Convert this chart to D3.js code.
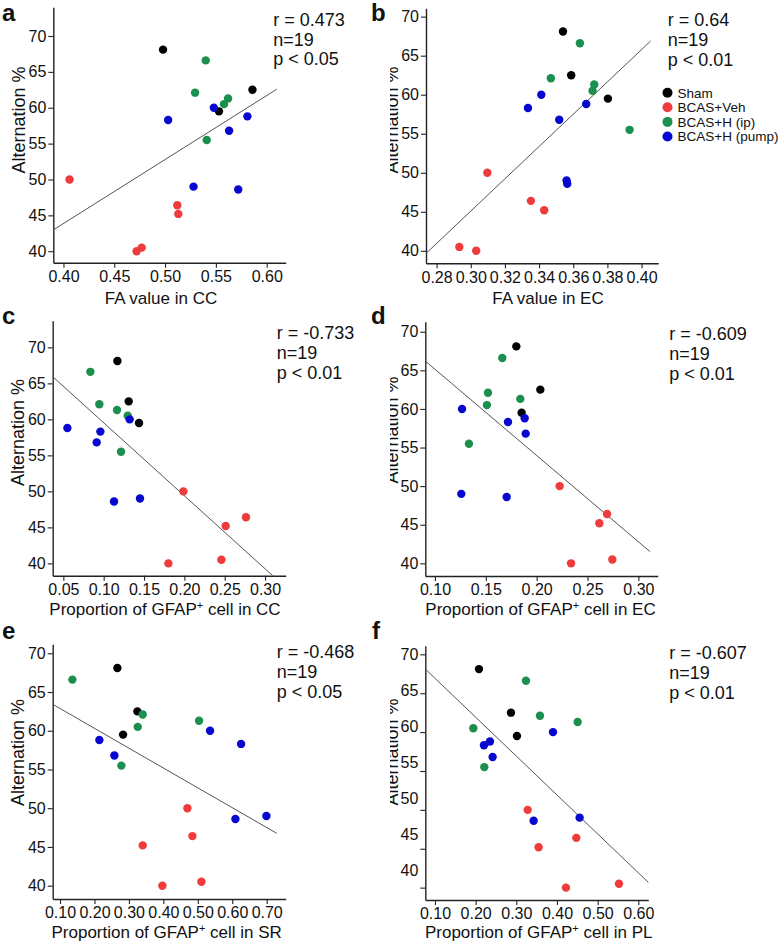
<!DOCTYPE html>
<html><head><meta charset="utf-8">
<script src="https://cdn.jsdelivr.net/npm/d3@7"></script>
<style>
body{margin:0;background:#fff}
svg{display:block}
text{font-family:"Liberation Sans",Arial,Helvetica,sans-serif;fill:#111}
</style>
</head><body>
<svg id="chart" width="778" height="943"></svg>
<script>
// ---------- DATA ----------
const groups = ["Sham", "BCAS+Veh", "BCAS+H (ip)", "BCAS+H (pump)"];
const groupColors = ["#000000", "#ef3b3b", "#1b8f4d", "#0707d0"];
// group of each animal (19 animals)
const animalGroup = [0,0,0, 1,1,1,1,1, 2,2,2,2,2, 3,3,3,3,3,3];
// Alternation % of each animal
const alternation = [68.1,62.5,59.5, 50.0,46.4,45.2,40.5,40.0, 66.6,62.1,61.3,60.5,55.5, 60.0,58.8,58.3,56.8,49.0,48.6];
// x values per panel
const faCC   = [0.498,0.586,0.553, 0.406,0.512,0.513,0.477,0.472, 0.540,0.5295,0.562,0.558,0.541, 0.548,0.581,0.503,0.563,0.528,0.572];
const faEC   = [0.354,0.3588,0.3803, 0.3097,0.3352,0.343,0.2933,0.3032, 0.3639,0.3469,0.3723,0.3713,0.393, 0.3413,0.3676,0.3335,0.3518,0.3561,0.3565];
const gfapCC = [0.117,0.131,0.1438, 0.1988,0.2764,0.2512,0.2459,0.1802, 0.0835,0.0946,0.1165,0.1298,0.1215, 0.1322,0.055,0.0959,0.0913,0.145,0.1128];
const gfapEC = [0.18,0.2036,0.1852, 0.2226,0.2692,0.2616,0.2744,0.2338, 0.1662,0.1521,0.1839,0.1511,0.1334, 0.1266,0.1882,0.1718,0.1892,0.1259,0.1705];
const gfapSR = [0.2665,0.3246,0.283, 0.4698,0.4843,0.34,0.5105,0.3972, 0.1358,0.34,0.5037,0.3256,0.2781, 0.5356,0.2142,0.6257,0.2578,0.6992,0.6092];
const gfapPL = [0.2082,0.2869,0.3016, 0.3279,0.4475,0.3549,0.5525,0.4221, 0.3238,0.3582,0.4508,0.1943,0.2213, 0.3902,0.2352,0.2205,0.2418,0.4557,0.3426];
// regression line end points [x0, y0, x1, y1] (data units)
const fitA = [0.390, 42.97, 0.6098, 62.57];
const fitB = [0.2738, 39.66, 0.4053, 66.88];
const fitC = [0.0368, 65.93, 0.3095, 38.29];
const fitD = [0.0905, 66.2, 0.3115, 41.51];
const fitE = [0.0787, 63.42, 0.7292, 46.76];
const fitF = [0.0762, 68.11, 0.6246, 40.68];
// axis domains
const xDomA = [0.390, 0.6187], yDomA = [38.4, 74.0];
const xDomB = [0.2738, 0.4098], yDomB = [38.4, 71.07];
const xDomC = [0.0368, 0.3256], yDomC = [38.29, 73.7];
const xDomD = [0.0905, 0.319], yDomD = [38.36, 71.3];
const xDomE = [0.0787, 0.7552], yDomE = [38.28, 71.16];
const xDomF = [0.0762, 0.6246], yDomF = [38.41, 71.11];
// ticks
const xTicksA = [0.40,0.45,0.50,0.55,0.60];
const xTicksB = [0.28,0.30,0.32,0.34,0.36,0.38,0.40];
const xTicksC = [0.05,0.10,0.15,0.20,0.25,0.30];
const xTicksD = [0.10,0.15,0.20,0.25,0.30];
const xTicksE = [0.10,0.20,0.30,0.40,0.50,0.60,0.70];
const xTicksF = [0.10,0.20,0.30,0.40,0.50,0.60];
const yTicks = [40,45,50,55,60,65,70];
// texts
const panelLetters = ["a","b","c","d","e","f"];
const xTitles = ["FA value in CC","FA value in EC","Proportion of GFAP+ cell in CC","Proportion of GFAP+ cell in EC","Proportion of GFAP+ cell in SR","Proportion of GFAP+ cell in PL"];
const yTitle = "Alternation %";
const statR = ["0.473","0.64","-0.733","-0.609","-0.468","-0.607"];
const statN = ["19","19","19","19","19","19"];
const statP = ["0.05","0.01","0.01","0.01","0.05","0.01"];

// ---------- LAYOUT ----------
const layout = [
  {xs:faCC,  fit:fitA, xd:xDomA, yd:yDomA, xt:xTicksA, frame:[53.3,7.3,285.7,262.7],  letter:[2,20.5],   stat:[273.3,25.7],  xTitleAt:[161,304],   yTitleAt:[25,120],   squash:1},
  {xs:faEC,  fit:fitB, xd:xDomB, yd:yDomB, xt:xTicksB, frame:[426,8.3,658.3,263.3],   letter:[371,20.5], stat:[667.7,26],    xTitleAt:[548,304],   yTitleAt:[397.5,120], squash:1},
  {xs:gfapCC,fit:fitC, xd:xDomC, yd:yDomC, xt:xTicksC, frame:[52.7,320.7,285.7,575.7],letter:[2,323.5],  stat:[276.7,339.3], xTitleAt:[165,614.5], yTitleAt:[24,432.5], squash:1},
  {xs:gfapEC,fit:fitD, xd:xDomD, yd:yDomD, xt:xTicksD, frame:[425.3,321.7,657.7,576],letter:[371,323.5],stat:[669.3,340],   xTitleAt:[540.5,614.5],yTitleAt:[397.5,430], squash:1},
  {xs:gfapSR,fit:fitE, xd:xDomE, yd:yDomE, xt:xTicksE, frame:[52.7,644.3,285.7,899],  letter:[2,639],    stat:[276.7,658.3], xTitleAt:[166.7,937.7],yTitleAt:[24,752.5], squash:1},
  {xs:gfapPL,fit:fitF, xd:xDomF, yd:yDomF, xt:xTicksF, frame:[425.3,645.7,648.3,900],letter:[372,639],  stat:[669.3,659],   xTitleAt:[538.7,937.7],yTitleAt:[397.5,752], squash:0.926}
];

const svg = d3.select("#chart");
const defs = svg.append("defs");
defs.append("clipPath").attr("id","rightCol").append("rect").attr("x",390).attr("y",0).attr("width",388).attr("height",943);
defs.append("clipPath").attr("id","leftCol").append("rect").attr("x",0).attr("y",0).attr("width",390).attr("height",943);

const fmt = d3.format(".2f");

layout.forEach((L, i) => {
  const g = svg.append("g").attr("clip-path", i % 2 ? "url(#rightCol)" : "url(#leftCol)");
  const [x0, y0, x1, y1] = L.frame;
  const x = d3.scaleLinear().domain(L.xd).range([x0, x1]);
  const y = d3.scaleLinear().domain(L.yd).range([y1, y0]);

  // axes
  const xa = g.append("g").attr("transform", `translate(0,${y1})`)
    .call(d3.axisBottom(x).tickValues(L.xt).tickFormat(fmt).tickSize(5).tickPadding(3).tickSizeOuter(0));
  const ya = g.append("g").attr("transform", `translate(${x0},0)`)
    .call(d3.axisLeft(y).tickValues(yTicks).tickFormat(d3.format("d")).tickSize(5).tickPadding(2).tickSizeOuter(0));
  [xa, ya].forEach(a => {
    a.select(".domain").attr("stroke", "#222").attr("stroke-width", 1.4);
    a.selectAll(".tick line").attr("stroke", "#222").attr("stroke-width", 1.1);
    a.selectAll(".tick text").attr("font-size", 16).attr("fill", "#111")
      .style("font-family", '"Liberation Sans",Arial,sans-serif');
  });
  if (L.squash !== 1) {
    const yTop = y(yTicks[yTicks.length - 1]);
    ya.selectAll(".tick text").attr("transform", d => `translate(0,${(y(d) - yTop) * (L.squash - 1)})`);
  }

  // regression line
  g.append("line")
    .attr("x1", x(L.fit[0])).attr("y1", y(L.fit[1]))
    .attr("x2", x(L.fit[2])).attr("y2", y(L.fit[3]))
    .attr("stroke", "#555").attr("stroke-width", 1);

  // points
  g.append("g").selectAll("circle").data(alternation.map((a, k) => ({x: L.xs[k], y: a, g: animalGroup[k]})))
    .join("circle")
    .attr("cx", d => x(d.x)).attr("cy", d => y(d.y)).attr("r", 4.2)
    .attr("fill", d => groupColors[d.g]);

  // y title
  g.append("text")
    .attr("transform", `translate(${L.yTitleAt[0]},${L.yTitleAt[1]}) rotate(-90)`)
    .attr("text-anchor", "middle").attr("font-size", 18).text(yTitle);

  // x title
  const xt = g.append("text").attr("x", L.xTitleAt[0]).attr("y", L.xTitleAt[1])
    .attr("text-anchor", "middle").attr("font-size", 17);
  const parts = xTitles[i].split("GFAP+");
  if (parts.length > 1) {
    xt.append("tspan").text(parts[0] + "GFAP");
    xt.append("tspan").attr("font-size", 11).attr("dy", -6).text("+");
    xt.append("tspan").attr("dy", 6).text(parts[1]);
  } else {
    xt.text(xTitles[i]);
  }

  // stats
  const st = g.append("text").attr("font-size", 18);
  [`r = ${statR[i]}`, `n=${statN[i]}`, `p < ${statP[i]}`].forEach((s, k) => {
    st.append("tspan").attr("x", L.stat[0]).attr("y", L.stat[1] + k * 19.8).text(s);
  });

  // panel letter (outside the column clip)
  svg.append("text").attr("x", L.letter[0]).attr("y", L.letter[1])
    .attr("font-size", 24).attr("font-weight", "bold").attr("fill", "#000").text(panelLetters[i]);
});

// legend (next to panel b)
const lg = svg.append("g");
groups.forEach((name, k) => {
  const yy = 92.7 + k * 14.6;
  lg.append("circle").attr("cx", 667.5).attr("cy", yy).attr("r", 5).attr("fill", groupColors[k]);
  lg.append("text").attr("x", 677.5).attr("y", yy + 4.8).attr("font-size", 13.5).text(name);
});
</script>
</body></html>
